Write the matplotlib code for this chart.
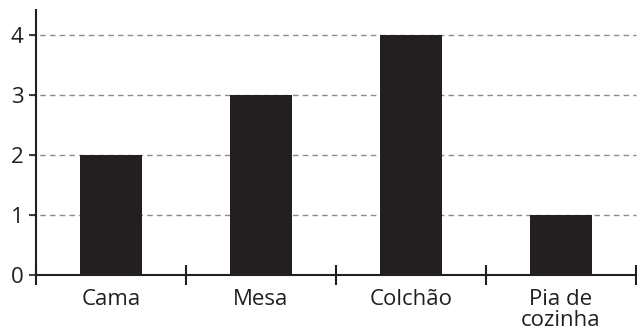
import numpy as np
import matplotlib.pyplot as plt

plt.rcParams['font.family'] = ['Open Sans', 'DejaVu Sans']

categorias = ['Cama', 'Mesa', 'Colchão', 'Pia de\ncozinha']
valores = [2, 3, 4, 1]
yticks = [0, 1, 2, 3, 4]

cor = '#231f20'

fig = plt.figure(figsize=(6.37, 3.33), dpi=100)
ax = fig.add_axes([36 / 637, 58 / 333, 600 / 637, 265 / 333])

x = np.arange(len(categorias)) + 0.5
ax.bar(x, valores, width=0.41, color=cor, zorder=3)

ax.set_xlim(0, len(categorias))
ax.set_ylim(0, 4.42)

# linhas de grade tracejadas (começam na marca do eixo)
for v in yticks[1:]:
    ax.axhline(v, xmin=-0.01, xmax=1, color='#8c8c8c', linestyle=(0, (4, 3)),
               linewidth=1.0, zorder=1, clip_on=False)

ax.spines['top'].set_visible(False)
ax.spines['right'].set_visible(False)
for s in ['left', 'bottom']:
    ax.spines[s].set_color(cor)
    ax.spines[s].set_linewidth(1.5)

ax.set_yticks(yticks)
ax.set_yticklabels([str(v) for v in yticks])
ax.set_xticks(np.arange(len(categorias) + 1))
ax.set_xticklabels([])
ax.set_xticks(x, minor=True)
ax.set_xticklabels(categorias, minor=True, linespacing=1.0)

ax.tick_params(axis='y', direction='out', length=5, width=1.2, color=cor,
               labelsize=16, labelcolor=cor, pad=4)
ax.tick_params(axis='x', which='major', direction='inout', length=14, width=1.5, color=cor)
ax.tick_params(axis='x', which='minor', length=0, labelsize=16, labelcolor=cor, pad=10)

fig.savefig('out.png', dpi=100)
